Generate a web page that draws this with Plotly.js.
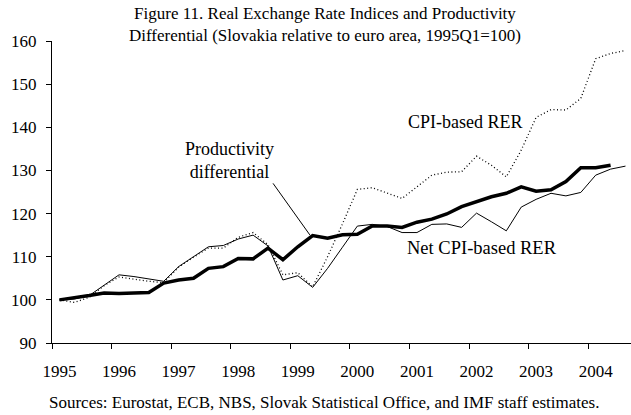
<!DOCTYPE html>
<html>
<head>
<meta charset="utf-8">
<script src="https://cdn.plot.ly/plotly-3.0.1.min.js"></script>
<style>html,body{margin:0;padding:0;background:#fff;}#chart{width:631px;height:415px;}</style>
</head>
<body>
<div id="chart"></div>
<script>
// Quarterly data, 1995Q1 .. 2004Q3 (index 0 = 1995Q1)
const quarters = ["1995Q1","1995Q2","1995Q3","1995Q4","1996Q1","1996Q2","1996Q3","1996Q4",
  "1997Q1","1997Q2","1997Q3","1997Q4","1998Q1","1998Q2","1998Q3","1998Q4",
  "1999Q1","1999Q2","1999Q3","1999Q4","2000Q1","2000Q2","2000Q3","2000Q4",
  "2001Q1","2001Q2","2001Q3","2001Q4","2002Q1","2002Q2","2002Q3","2002Q4",
  "2003Q1","2003Q2","2003Q3","2003Q4","2004Q1","2004Q2","2004Q3"];
const yearLabels = ["1995","1996","1997","1998","1999","2000","2001","2002","2003","2004"];

const productivity = [100.0,100.4,101.0,101.6,101.5,101.6,101.7,103.9,
  104.6,105.0,107.3,107.7,109.6,109.5,112.0,109.3,
  112.3,114.9,114.3,115.1,115.2,117.1,117.1,116.8,
  118.0,118.7,119.9,121.6,122.8,123.9,124.7,126.2,
  125.2,125.5,127.4,130.6,130.6,131.2];

const cpiRER = [100.0,99.4,100.6,103.3,105.3,104.8,104.3,104.0,
  107.6,109.9,112.0,112.0,114.5,115.6,112.8,105.8,
  106.3,103.0,110.0,117.6,125.6,126.0,124.7,123.5,
  126.2,128.9,129.6,129.7,133.3,131.2,128.5,134.7,
  142.3,144.1,144.0,146.7,155.9,157.1,157.8];

const netCpiRER = [100.0,100.2,101.0,103.3,105.8,105.4,104.8,104.3,
  107.7,110.0,112.3,112.6,114.1,115.0,112.5,104.6,
  105.6,102.9,107.3,112.2,117.1,117.5,117.0,115.6,
  115.6,117.5,117.6,116.8,120.1,118.1,116.0,121.5,
  123.3,124.7,124.1,124.9,128.9,130.3,131.0];

const xi = arr => arr.map((_, i) => i);
const FONT = "Liberation Serif, Times New Roman, serif";

const traces = [
  {x: xi(cpiRER), y: cpiRER, type: "scatter", mode: "lines", name: "CPI-based RER",
   line: {color: "#000", width: 1.3, dash: "1px,2.5px"}, hoverinfo: "skip"},
  {x: xi(netCpiRER), y: netCpiRER, type: "scatter", mode: "lines", name: "Net CPI-based RER",
   line: {color: "#000", width: 1}, hoverinfo: "skip"},
  {x: xi(productivity), y: productivity, type: "scatter", mode: "lines", name: "Productivity differential",
   line: {color: "#000", width: 3.5}, hoverinfo: "skip"}
];

// labels at the first quarter of each year, tick marks at year boundaries
const labelvals = yearLabels.map((_, k) => 4 * k);
const boundaryvals = yearLabels.map((_, k) => -0.5 + 4 * k);

const layout = {
  width: 631, height: 415,
  margin: {l: 52, r: 0, t: 41, b: 72, pad: 0},
  paper_bgcolor: "#fff", plot_bgcolor: "#fff",
  showlegend: false,
  font: {family: FONT, size: 17, color: "#000"},
  title: {
    text: "Figure 11. Real Exchange Rate Indices and Productivity<br>Differential (Slovakia relative to euro area, 1995Q1=100)",
    font: {family: FONT, size: 17, color: "#000"},
    x: 0.515, xref: "container", xanchor: "center",
    y: 0.954, yref: "container", yanchor: "top"
  },
  xaxis: {
    range: [-0.5, 38.37], showgrid: false, zeroline: false,
    showline: true, linecolor: "#000", linewidth: 1,
    tickmode: "array", tickvals: labelvals, ticktext: yearLabels,
    ticks: "outside", ticklen: 5, tickcolor: "rgba(0,0,0,0)", tickwidth: 1,
    ticklabelstandoff: 8,
    tickfont: {family: FONT, size: 17, color: "#000"},
    minor: {tickmode: "array", tickvals: boundaryvals, ticks: "outside", ticklen: 5,
            tickcolor: "#000", tickwidth: 1, showgrid: false}
  },
  yaxis: {
    range: [90, 160], dtick: 10, tick0: 90, showgrid: false, zeroline: false,
    showline: true, linecolor: "#000", linewidth: 1,
    ticks: "outside", ticklen: 5, tickcolor: "#000", tickwidth: 1,
    ticklabelstandoff: 6,
    tickfont: {family: FONT, size: 17, color: "#000"}
  },
  shapes: [
    {type: "line", xref: "x", yref: "y", x0: 14.34, y0: 127.0, x1: 16.81, y1: 115.05,
     line: {color: "#000", width: 1}}
  ],
  annotations: [
    {text: "Productivity<br>differential", xref: "x", yref: "y", x: 11.4, y: 132.4,
     showarrow: false, font: {family: FONT, size: 18, color: "#000"}, align: "center"},
    {text: "CPI-based RER", xref: "x", yref: "y", x: 27.28, y: 141.2,
     showarrow: false, font: {family: FONT, size: 18, color: "#000"}},
    {text: "Net CPI-based RER", xref: "x", yref: "y", x: 28.36, y: 112.0,
     showarrow: false, font: {family: FONT, size: 18.5, color: "#000"}},
    {text: "Sources: Eurostat, ECB, NBS, Slovak Statistical Office, and IMF staff estimates.",
     xref: "paper", yref: "paper", x: 0.47, y: -0.197, yanchor: "middle",
     showarrow: false, font: {family: FONT, size: 17, color: "#000"}}
  ]
};

Plotly.newPlot("chart", traces, layout, {staticPlot: true, displayModeBar: false});
</script>
</body>
</html>
